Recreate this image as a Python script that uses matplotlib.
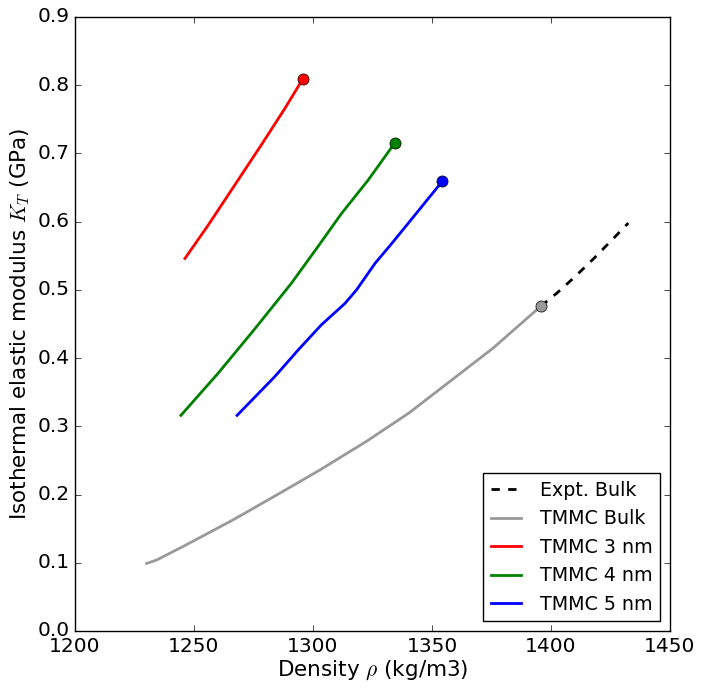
import matplotlib
matplotlib.use("Agg")
import matplotlib.pyplot as plt

plt.style.use("classic")
plt.rcParams["figure.facecolor"] = "white"
plt.rcParams["savefig.facecolor"] = "white"
plt.rcParams["font.family"] = ["DejaVu Sans"]
plt.rcParams["mathtext.fontset"] = "cm"

# Data
expt_x = [1395.7, 1402.4, 1410, 1418, 1425, 1432.5]
expt_y = [0.476, 0.495, 0.519, 0.546, 0.571, 0.598]

bulk_x = [1230.1, 1234.3, 1245.5, 1266.5, 1286.1, 1302.9, 1322.5, 1340.5, 1357.6, 1375.8, 1395.7]
bulk_y = [0.099, 0.104, 0.124, 0.163, 0.202, 0.236, 0.278, 0.320, 0.366, 0.415, 0.476]

nm3_x = [1246.2, 1256.0, 1267.2, 1278.4, 1288.2, 1295.7]
nm3_y = [0.546, 0.595, 0.654, 0.713, 0.766, 0.809]

nm4_x = [1244.5, 1260.2, 1275.6, 1291.0, 1302.2, 1312.0, 1323.2, 1334.5]
nm4_y = [0.316, 0.378, 0.443, 0.510, 0.564, 0.612, 0.661, 0.716]

nm5_x = [1268.1, 1284.0, 1293.8, 1303.6, 1313.4, 1318.3, 1326.1, 1333.1, 1342.9, 1354.3]
nm5_y = [0.316, 0.373, 0.412, 0.449, 0.480, 0.500, 0.539, 0.568, 0.610, 0.659]

xticks = [1200, 1250, 1300, 1350, 1400, 1450]
yticks = [0.0, 0.1, 0.2, 0.3, 0.4, 0.5, 0.6, 0.7, 0.8, 0.9]

fig = plt.figure(figsize=(7.04, 6.93), dpi=100)
ax = fig.add_axes([0.1065, 0.0895, 0.8452, 0.886])

gray = (0.6, 0.6, 0.6)
ax.plot(expt_x, expt_y, "--", color="black", lw=2, label="Expt. Bulk")
ax.plot(bulk_x, bulk_y, "-", color=gray, lw=2, label="TMMC Bulk")
ax.plot(nm3_x, nm3_y, "-", color="r", lw=2, label="TMMC 3 nm")
ax.plot(nm4_x, nm4_y, "-", color="g", lw=2, label="TMMC 4 nm")
ax.plot(nm5_x, nm5_y, "-", color="b", lw=2, label="TMMC 5 nm")

for xs, ys, c in [(bulk_x, bulk_y, gray), (nm3_x, nm3_y, "r"),
                  (nm4_x, nm4_y, "g"), (nm5_x, nm5_y, "b")]:
    ax.plot([xs[-1]], [ys[-1]], "o", color=c, markersize=8,
            markeredgecolor="black", markeredgewidth=0.5)

ax.set_xlim(1200, 1450)
ax.set_ylim(0, 0.9)
ax.set_xticks(xticks)
ax.set_yticks(yticks)
ax.set_xticklabels([str(t) for t in xticks])
ax.set_yticklabels([f"{t:.1f}" for t in yticks])
ax.tick_params(labelsize=14.5)
ax.set_xlabel(r"Density $\rho$ (kg/m3)", fontsize=15.5, labelpad=2)
ax.set_ylabel(r"Isothermal elastic modulus $K_T$ (GPa)", fontsize=15.5, labelpad=4)

ax.legend(loc="lower right", fontsize=13.7, numpoints=1, handlelength=1.6,
          handletextpad=1.0, borderaxespad=0.5, frameon=True, fancybox=False)

fig.savefig("out.png", dpi=100)
